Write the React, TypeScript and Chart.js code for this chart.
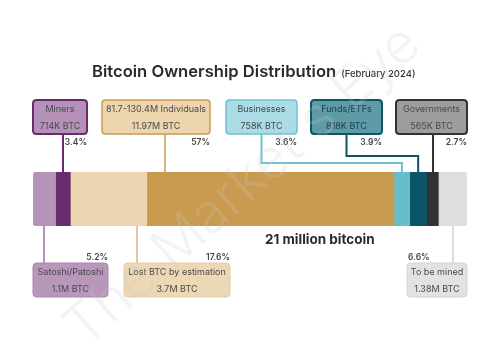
import React, { useEffect, useRef } from "react";
import { Chart, registerables } from "chart.js";

Chart.register(...registerables);

// ---------- data ----------
const CATEGORIES = [
  "Satoshi/Patoshi",
  "Miners",
  "Lost BTC by estimation",
  "81.7-130.4M Individuals",
  "Businesses",
  "Funds/ETFs",
  "Governments",
  "To be mined",
];
const SHARES = [5.2, 3.4, 17.6, 57, 3.6, 3.9, 2.7, 6.6];
const AMOUNTS = [
  "1.1M BTC",
  "714K BTC",
  "3.7M BTC",
  "11.97M BTC",
  "758K BTC",
  "818K BTC",
  "565K BTC",
  "1.38M BTC",
];
const TITLE = "Bitcoin Ownership Distribution";
const SUBTITLE = "(February 2024)";
const TOTAL_LABEL = "21 million bitcoin";
const WATERMARK = "The Market's Eye";

// ---------- styles ----------
const BAR_COLORS = ["#b694b9", "#6a2b6c", "#ecd5b0", "#c99b50", "#66bdcd", "#0d5466", "#313234", "#dedede"];
const BOX_FILLS = ["#b897bb", "#b591b9", "#edd8b5", "#edd5ae", "#aadce6", "#5e9ba7", "#9d9d9d", "#e2e2e2"];
const BOX_BORDERS = ["#a987ac", "#6a2b6c", "#e3cca2", "#c99b50", "#6dc1d1", "#0d5466", "#313234", "#d3d3d3"];
const LINE_COLORS = ["#b694b9", "#6a2b6c", "#e2c99d", "#d6b47e", "#6dc1d1", "#0d5466", "#313234", "#dcdcdc"];
const BORDER_W = [1, 2, 1, 1.5, 1.5, 2, 2, 1];

// annotation layout (pixels): row, box left/right, where the leader leaves the box,
// elbow offset above the bar (for routed leaders), percent-label alignment
type Layout = {
  row: "top" | "bottom";
  left: number;
  right: number;
  boxLink: "center" | number; // number = offset from box left
  barLink: "segment" | "same";
  elbow?: number;
  pctAlign: "right" | "left";
};
const LAYOUT: Layout[] = [
  { row: "bottom", left: 33, right: 108, boxLink: 11, barLink: "same", pctAlign: "right" },
  { row: "top", left: 33, right: 87, boxLink: 30, barLink: "same", pctAlign: "right" },
  { row: "bottom", left: 124, right: 230, boxLink: 13, barLink: "same", pctAlign: "right" },
  { row: "top", left: 102, right: 210, boxLink: 63, barLink: "same", pctAlign: "right" },
  { row: "top", left: 226, right: 297, boxLink: "center", barLink: "segment", elbow: 9, pctAlign: "right" },
  { row: "top", left: 311, right: 382, boxLink: "center", barLink: "segment", elbow: 16, pctAlign: "right" },
  { row: "top", left: 396, right: 467, boxLink: 37, barLink: "same", pctAlign: "right" },
  { row: "bottom", left: 407, right: 467, boxLink: 46, barLink: "same", pctAlign: "left" },
];

const FONT = "Inter, 'Noto Sans', sans-serif";

function roundRect(ctx: CanvasRenderingContext2D, x: number, y: number, w: number, h: number, r: number) {
  ctx.beginPath();
  ctx.moveTo(x + r, y);
  ctx.lineTo(x + w - r, y);
  ctx.quadraticCurveTo(x + w, y, x + w, y + r);
  ctx.lineTo(x + w, y + h - r);
  ctx.quadraticCurveTo(x + w, y + h, x + w - r, y + h);
  ctx.lineTo(x + r, y + h);
  ctx.quadraticCurveTo(x, y + h, x, y + h - r);
  ctx.lineTo(x, y + r);
  ctx.quadraticCurveTo(x, y, x + r, y);
  ctx.closePath();
}

const annotationPlugin = {
  id: "annotations",
  afterDatasetsDraw(chart: any) {
    const ctx: CanvasRenderingContext2D = chart.ctx;
    const xs = chart.scales.x;
    const area = chart.chartArea;
    const barTop = area.top;
    const barBottom = area.bottom;

    ctx.save();
    // title
    ctx.fillStyle = "#2b2b2b";
    ctx.textBaseline = "alphabetic";
    ctx.textAlign = "left";
    ctx.font = `600 16.6px ${FONT}`;
    const titleX = 92;
    const titleY = 77;
    ctx.fillText(TITLE, titleX, titleY);
    const tw = ctx.measureText(TITLE).width;
    ctx.font = `500 9.5px ${FONT}`;
    ctx.fillStyle = "#333";
    ctx.fillText(SUBTITLE, titleX + tw + 5, titleY);

    // total label
    ctx.font = `700 13.5px ${FONT}`;
    ctx.fillStyle = "#2b2b2b";
    ctx.textBaseline = "middle";
    ctx.fillText(TOTAL_LABEL, 265, barBottom + 14);

    let cum = 0;
    SHARES.forEach((share, i) => {
      const L = LAYOUT[i];
      const segCenter = xs.getPixelForValue(cum + share / 2);
      cum += share;
      const boxTop = L.row === "top" ? barTop - 72 : barBottom + 37;
      const boxH = 34;
      const boxBottom = boxTop + boxH;
      const boxX = L.boxLink === "center" ? (L.left + L.right) / 2 : L.left + (L.boxLink as number);
      const barX = L.barLink === "segment" ? segCenter : boxX;

      // leader line
      ctx.strokeStyle = LINE_COLORS[i];
      ctx.lineWidth = 2;
      ctx.beginPath();
      if (L.row === "top") {
        if (L.elbow !== undefined) {
          const ey = barTop - L.elbow;
          ctx.moveTo(boxX, boxBottom);
          ctx.lineTo(boxX, ey);
          ctx.lineTo(barX, ey);
          ctx.lineTo(barX, barTop);
        } else {
          ctx.moveTo(boxX, boxBottom);
          ctx.lineTo(barX, barTop);
        }
      } else {
        ctx.moveTo(barX, barBottom);
        ctx.lineTo(boxX, boxTop);
      }
      ctx.stroke();

      // box
      roundRect(ctx, L.left, boxTop, L.right - L.left, boxH, 3.5);
      ctx.fillStyle = BOX_FILLS[i];
      ctx.fill();
      ctx.lineWidth = BORDER_W[i];
      ctx.strokeStyle = BOX_BORDERS[i];
      ctx.stroke();

      // box text
      const cx = (L.left + L.right) / 2;
      ctx.fillStyle = i === 5 ? "#20424a" : "#4a4a4a";
      ctx.textAlign = "center";
      ctx.textBaseline = "middle";
      ctx.font = `400 9px ${FONT}`;
      ctx.fillText(CATEGORIES[i], cx, boxTop + 9.5);
      ctx.fillText(AMOUNTS[i], cx, boxTop + 26);

      // percent label
      ctx.font = `600 8.5px ${FONT}`;
      ctx.fillStyle = "#444";
      const py = L.row === "top" ? boxBottom + 8 : boxTop - 6;
      if (L.pctAlign === "right") {
        ctx.textAlign = "right";
        ctx.fillText(share + "%", L.right, py);
      } else {
        ctx.textAlign = "left";
        ctx.fillText(share + "%", L.left + 1, py);
      }
    });
    ctx.restore();
  },
  afterDraw(chart: any) {
    const ctx: CanvasRenderingContext2D = chart.ctx;
    ctx.save();
    ctx.translate(243, 186);
    ctx.rotate((-41.5 * Math.PI) / 180);
    ctx.font = `300 56px ${FONT}`;
    ctx.textAlign = "center";
    ctx.textBaseline = "middle";
    ctx.fillStyle = "rgba(200,200,200,0.22)";
    ctx.fillText(WATERMARK, 0, 0);
    ctx.restore();
  },
};

export default function App() {
  const canvasRef = useRef<HTMLCanvasElement | null>(null);

  useEffect(() => {
    if (!canvasRef.current) return;
    const lastIdx = SHARES.length - 1;
    const chart = new Chart(canvasRef.current, {
      type: "bar",
      data: {
        labels: ["Bitcoin"],
        datasets: SHARES.map((s, i) => ({
          label: CATEGORIES[i],
          data: [s],
          backgroundColor: BAR_COLORS[i],
          borderWidth: 0,
          borderSkipped: false,
          borderRadius:
            i === 0
              ? { topLeft: 4, bottomLeft: 4, topRight: 0, bottomRight: 0 }
              : i === lastIdx
              ? { topLeft: 0, bottomLeft: 0, topRight: 4, bottomRight: 4 }
              : 0,
          barPercentage: 1,
          categoryPercentage: 1,
        })),
      },
      options: {
        indexAxis: "y",
        animation: false,
        responsive: true,
        maintainAspectRatio: false,
        layout: { padding: { left: 33, right: 29, top: 172, bottom: 137 } },
        scales: {
          x: { stacked: true, min: 0, max: 100, display: false },
          y: { stacked: true, display: false },
        },
        plugins: { legend: { display: false }, tooltip: { enabled: false }, title: { display: false } },
      },
      plugins: [annotationPlugin],
    } as any);
    return () => chart.destroy();
  }, []);

  return (
    <div style={{ position: "fixed", left: 0, top: 0, width: 496, height: 363, background: "#ffffff" }}>
      <canvas ref={canvasRef} />
    </div>
  );
}
